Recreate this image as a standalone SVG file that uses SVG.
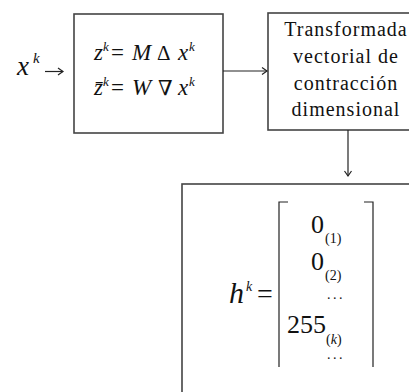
<svg xmlns="http://www.w3.org/2000/svg" width="409" height="392" viewBox="0 0 409 392">
<defs>
<style>
.box{fill:#fff;stroke:#444;stroke-width:1.6}
.ln{fill:none;stroke:#222;stroke-width:1.2}
.m{fill:#111}
.i{font-style:italic}
.t{font-size:20px;letter-spacing:1px;fill:#111;text-anchor:middle}
</style>
<marker id="ah" markerWidth="10" markerHeight="10" refX="8" refY="5" orient="auto" markerUnits="userSpaceOnUse">
<path d="M3,1.5 L8,5 L3,8.5" fill="none" stroke="#222" stroke-width="1.2"/>
</marker>
</defs>
<rect width="409" height="392" fill="#fff"/>
<g font-family="'Liberation Serif', 'Times New Roman', 'DejaVu Serif', serif">
<g id="input">
<text class="m i" x="17" y="75" font-size="27">x</text>
<text class="m i" x="33" y="63" font-size="15">k</text>
</g>
<g id="box1">
<rect class="box" x="74" y="14" width="149" height="119"/>
<text class="m i" x="94" y="60" font-size="23">z</text>
<text class="m i" x="103" y="51" font-size="13">k</text>
<text class="m" x="111" y="60" font-size="23">=</text>
<text class="m i" x="132" y="60" font-size="23">M</text>
<text class="m" x="157" y="60" font-size="21">Δ</text>
<text class="m i" x="178" y="60" font-size="23">x</text>
<text class="m i" x="189" y="51" font-size="13">k</text>
<text class="m i" x="94" y="95" font-size="23">z̄</text>
<text class="m i" x="103" y="86" font-size="13">k</text>
<text class="m" x="111" y="95" font-size="23">=</text>
<text class="m i" x="132" y="95" font-size="23">W</text>
<text class="m" x="158" y="95" font-size="21">∇</text>
<text class="m i" x="178" y="95" font-size="23">x</text>
<text class="m i" x="189" y="86" font-size="13">k</text>
</g>
<g id="box2">
<rect class="box" x="268" y="13" width="150" height="117"/>
<text class="t" x="346" y="36">Transformada</text>
<text class="t" x="346" y="63">vectorial de</text>
<text class="t" x="346" y="90">contracción</text>
<text class="t" x="346" y="116">dimensional</text>
</g>
<g id="box3">
<rect class="box" x="182" y="184" width="240" height="220"/>
<text class="m i" x="229" y="303" font-size="30">h</text>
<text class="m i" x="246" y="291" font-size="14">k</text>
<text class="m" x="257" y="303" font-size="28">=</text>
<path class="ln" d="M288,202 H279 V367 M364,202 H373 V367" stroke-width="1.5"/>
<text class="m" x="311" y="233" font-size="26">0</text>
<text class="m" x="325" y="243" font-size="14">(1)</text>
<text class="m" x="311" y="270" font-size="26">0</text>
<text class="m" x="325" y="280" font-size="14">(2)</text>
<text class="m" x="327" y="299" font-size="14" letter-spacing="2.5">...</text>
<text class="m" x="287" y="333" font-size="26">255</text>
<text class="m" x="326" y="344" font-size="14">(<tspan class="i">k</tspan>)</text>
<text class="m" x="327" y="359" font-size="14" letter-spacing="2.5">...</text>
</g>
</g>
<g id="connectors">
<path class="ln" d="M45,71.5 H63" marker-end="url(#ah)"/>
<path class="ln" d="M223,71 H267" marker-end="url(#ah)"/>
<path class="ln" d="M348,130 V176" marker-end="url(#ah)"/>
</g>
</svg>
